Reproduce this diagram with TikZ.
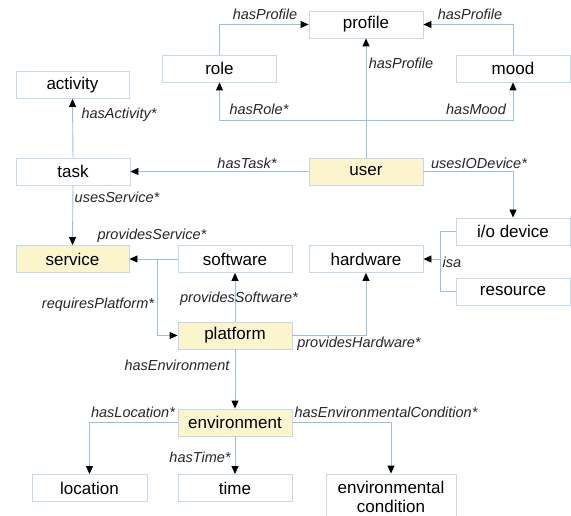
\documentclass[tikz,border=0pt]{standalone}
\usepackage{fontspec}
\setmainfont{Liberation Sans}
\usetikzlibrary{arrows.meta}
\definecolor{boxc}{RGB}{196,218,232}
\definecolor{linec}{RGB}{155,194,212}
\definecolor{yel}{RGB}{250,245,205}
\tikzset{
  box/.style={draw=boxc, line width=0.9pt, minimum width=114pt, minimum height=27pt, inner sep=0pt, font=\fontsize{17}{19}\selectfont, fill=white},
  ybox/.style={box, fill=yel},
  conn/.style={draw=linec, line width=0.9pt, -{Triangle[length=8pt,width=7pt,color=black]}},
  plain/.style={draw=linec, line width=0.9pt},
  lbl/.style={font=\fontsize{14.5}{16}\selectfont\itshape, inner sep=0pt, text=black!85}
}
\begin{document}
\begin{tikzpicture}[x=1pt,y=-1pt]
\useasboundingbox (0,0) rectangle (571,516);
% nodes
\node[box] (profile) at (366,24.5) {profile};
\node[box] (role) at (219.5,68.5) {role};
\node[box] (mood) at (513,68.5) {mood};
\node[box, minimum width=113pt] (activity) at (72.5,85) {activity};
\node[box, minimum width=114pt] (task) at (73,171.5) {task};
\node[ybox] (user) at (366,171.5) {user};
\node[ybox, minimum width=113pt] (service) at (72.5,259) {service};
\node[box] (software) at (235,259) {software};
\node[box] (hardware) at (366,259) {hardware};
\node[box] (iodevice) at (513,231.5) {i/o device};
\node[box] (resource) at (513,291.5) {resource};
\node[ybox] (platform) at (235,335.5) {platform};
\node[ybox] (environment) at (235,422.5) {environment};
\node[box, minimum width=115pt] (location) at (89.5,488) {location};
\node[box] (time) at (235,488) {time};
\node[box, minimum width=130pt, minimum height=46pt, align=center, font=\fontsize{17}{19.5}\selectfont] (envcond) at (391,497) {environmental\\condition};
% coordinates
\coordinate (uj) at (366,120);
\coordinate (rp) at (157,259);
\coordinate (isaA) at (440,231.5);
\coordinate (isaB) at (440,291.5);
\coordinate (isaM) at (440,259);
% connectors
\draw[conn] (role.north) |- (profile.west);
\draw[conn] (mood.north) |- (profile.east);
\draw[conn] (user.north) -- (profile.south);
\draw[plain] (user.north) -- (uj);
\draw[conn] (uj) -| (role.south);
\draw[conn] (uj) -| (mood.south);
\draw[conn] (user.west) -- (task.east);
\draw[conn] (task.north) -- (activity.south);
\draw[conn] (task.south) -- (service.north);
\draw[conn] (user.east) -| (iodevice.north);
\draw[conn] (software.west) -- (service.east);
\draw[conn] (rp) |- (platform.west);
\draw[conn] (platform.north) -- (software.south);
\draw[conn] (platform.east) -| (hardware.south);
\draw[plain] (iodevice.west) -- (isaA) -- (isaB) -- (resource.west);
\draw[conn] (isaM) -- (hardware.east);
\draw[conn] (platform.south) -- (environment.north);
\draw[conn] (environment.west) -| (location.north);
\draw[conn] (environment.south) -- (time.north);
\draw[conn] (environment.east) -| (envcond.north);
% labels
\node[lbl] (l1) at (265,14) {hasProfile};
\node[lbl] (l2) at (470,14) {hasProfile};
\node[lbl] (l3) at (401,63) {hasProfile};
\node[lbl] (l4) at (259,109) {hasRole*};
\node[lbl] (l5) at (476,109) {hasMood};
\node[lbl] (l6) at (119,115) {hasActivity*};
\node[lbl] (l7) at (247,163) {hasTask*};
\node[lbl] (l8) at (479,163) {usesIODevice*};
\node[lbl] (l9) at (117,197) {usesService*};
\node[lbl] (l10) at (152,236) {providesService*};
\node[lbl] (l11) at (98,305) {requiresPlatform*};
\node[lbl] (l12) at (239,299) {providesSoftware*};
\node[lbl] (l13) at (359,344) {providesHardware*};
\node[lbl] (l14) at (452,262) {isa};
\node[lbl] (l15) at (177,365) {hasEnvironment};
\node[lbl] (l16) at (133,412) {hasLocation*};
\node[lbl] (l17) at (200,457) {hasTime*};
\node[lbl] (l18) at (386,412) {hasEnvironmentalCondition*};
\end{tikzpicture}
\end{document}
